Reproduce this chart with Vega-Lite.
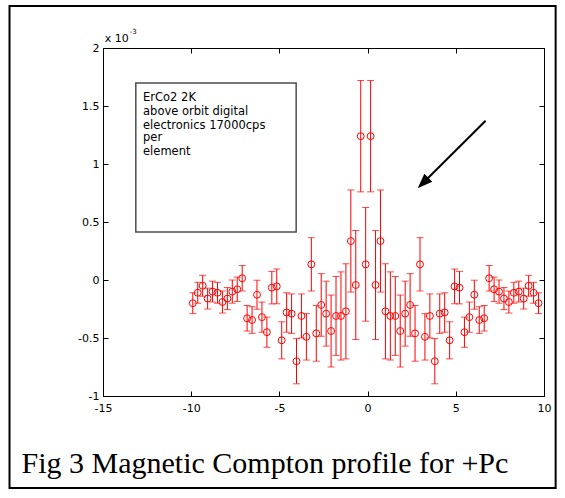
{
  "$schema": "https://vega.github.io/schema/vega-lite/v6.json",
  "width": 441,
  "height": 348,
  "autosize": "none",
  "padding": {"left": 103, "top": 48, "right": 21, "bottom": 102},
  "background": "white",
  "config": {
    "view": {"stroke": null},
    "axis": {
      "domainColor": "black",
      "domainWidth": 1,
      "tickColor": "black",
      "tickWidth": 1,
      "tickSize": -5,
      "labelColor": "black",
      "labelFont": "DejaVu Sans",
      "labelFontSize": 11,
      "labelFlush": false,
      "labelOverlap": false,
      "grid": false,
      "title": null
    }
  },
  "datasets": {
    "profile": [
      {"x": -9.91, "y": -0.20, "e": 0.09},
      {"x": -9.63, "y": -0.11, "e": 0.09},
      {"x": -9.35, "y": -0.05, "e": 0.09},
      {"x": -9.07, "y": -0.16, "e": 0.09},
      {"x": -8.79, "y": -0.10, "e": 0.09},
      {"x": -8.51, "y": -0.11, "e": 0.09},
      {"x": -8.23, "y": -0.19, "e": 0.095},
      {"x": -7.95, "y": -0.16, "e": 0.095},
      {"x": -7.67, "y": -0.10, "e": 0.10},
      {"x": -7.39, "y": -0.08, "e": 0.105},
      {"x": -7.11, "y": 0.015, "e": 0.11},
      {"x": -6.83, "y": -0.33, "e": 0.11},
      {"x": -6.55, "y": -0.345, "e": 0.115},
      {"x": -6.27, "y": -0.127, "e": 0.125},
      {"x": -5.99, "y": -0.32, "e": 0.13},
      {"x": -5.71, "y": -0.45, "e": 0.13},
      {"x": -5.43, "y": -0.066, "e": 0.14},
      {"x": -5.15, "y": -0.055, "e": 0.15},
      {"x": -4.87, "y": -0.52, "e": 0.16},
      {"x": -4.59, "y": -0.28, "e": 0.17},
      {"x": -4.31, "y": -0.29, "e": 0.17},
      {"x": -4.03, "y": -0.70, "e": 0.195},
      {"x": -3.75, "y": -0.31, "e": 0.19},
      {"x": -3.47, "y": -0.49, "e": 0.20},
      {"x": -3.19, "y": 0.135, "e": 0.23},
      {"x": -2.91, "y": -0.46, "e": 0.24},
      {"x": -2.63, "y": -0.215, "e": 0.27},
      {"x": -2.35, "y": -0.29, "e": 0.28},
      {"x": -2.07, "y": -0.44, "e": 0.31},
      {"x": -1.79, "y": -0.31, "e": 0.34},
      {"x": -1.51, "y": -0.31, "e": 0.38},
      {"x": -1.23, "y": -0.27, "e": 0.41},
      {"x": -0.95, "y": 0.336, "e": 0.44},
      {"x": -0.67, "y": -0.043, "e": 0.47},
      {"x": -0.39, "y": 1.24, "e": 0.48},
      {"x": -0.11, "y": 0.135, "e": 0.49},
      {"x": 0.17, "y": 1.24, "e": 0.48},
      {"x": 0.45, "y": -0.043, "e": 0.47},
      {"x": 0.73, "y": 0.336, "e": 0.44},
      {"x": 1.01, "y": -0.27, "e": 0.41},
      {"x": 1.29, "y": -0.31, "e": 0.38},
      {"x": 1.57, "y": -0.31, "e": 0.34},
      {"x": 1.85, "y": -0.44, "e": 0.31},
      {"x": 2.13, "y": -0.29, "e": 0.28},
      {"x": 2.41, "y": -0.215, "e": 0.27},
      {"x": 2.69, "y": -0.46, "e": 0.24},
      {"x": 2.97, "y": 0.135, "e": 0.23},
      {"x": 3.25, "y": -0.49, "e": 0.20},
      {"x": 3.53, "y": -0.31, "e": 0.19},
      {"x": 3.81, "y": -0.70, "e": 0.195},
      {"x": 4.09, "y": -0.29, "e": 0.17},
      {"x": 4.37, "y": -0.28, "e": 0.17},
      {"x": 4.65, "y": -0.52, "e": 0.16},
      {"x": 4.93, "y": -0.055, "e": 0.15},
      {"x": 5.21, "y": -0.066, "e": 0.14},
      {"x": 5.49, "y": -0.45, "e": 0.13},
      {"x": 5.77, "y": -0.32, "e": 0.13},
      {"x": 6.05, "y": -0.127, "e": 0.125},
      {"x": 6.33, "y": -0.345, "e": 0.115},
      {"x": 6.61, "y": -0.33, "e": 0.11},
      {"x": 6.89, "y": 0.015, "e": 0.11},
      {"x": 7.17, "y": -0.08, "e": 0.105},
      {"x": 7.45, "y": -0.10, "e": 0.10},
      {"x": 7.73, "y": -0.16, "e": 0.095},
      {"x": 8.01, "y": -0.19, "e": 0.095},
      {"x": 8.29, "y": -0.11, "e": 0.09},
      {"x": 8.57, "y": -0.10, "e": 0.09},
      {"x": 8.85, "y": -0.16, "e": 0.09},
      {"x": 9.13, "y": -0.05, "e": 0.09},
      {"x": 9.41, "y": -0.11, "e": 0.09},
      {"x": 9.69, "y": -0.20, "e": 0.09}
    ]
  },
  "layer": [
    {
      "layer": [
        {
          "data": {"name": "profile"},
          "mark": {"type": "errorbar", "color": "red", "ticks": {"size": 7, "color": "red", "strokeWidth": 1}, "rule": {"color": "red", "strokeWidth": 1}},
          "encoding": {
            "x": {"field": "x", "type": "quantitative", "title": null, "scale": {"domain": [-15, 10], "nice": false, "zero": false},
                  "axis": {"orient": "bottom", "title": null, "values": [-15, -10, -5, 0, 5, 10], "labelExpr": "'' + datum.value", "labelPadding": 11}},
            "y": {"field": "y", "type": "quantitative", "title": null, "scale": {"domain": [-1, 2], "nice": false, "zero": false},
                  "axis": {"orient": "left", "title": null, "values": [-1, -0.5, 0, 0.5, 1, 1.5, 2], "labelExpr": "'' + datum.value", "labelPadding": 9}},
            "yError": {"field": "e"}
          }
        },
        {
          "data": {"name": "profile"},
          "mark": {"type": "point", "shape": "circle", "filled": false, "color": "red", "size": 48, "strokeWidth": 1, "opacity": 1},
          "encoding": {
            "x": {"field": "x", "type": "quantitative", "title": null},
            "y": {"field": "y", "type": "quantitative", "title": null}
          }
        },
        {
          "data": {"values": [{"x": -13.14, "x2": -4.05, "y": 1.698, "y2": 0.414}]},
          "mark": {"type": "rect", "fill": "white", "stroke": "#4d4d4d", "strokeWidth": 1.5},
          "encoding": {
            "x": {"field": "x", "type": "quantitative", "title": null},
            "x2": {"field": "x2"},
            "y": {"field": "y", "type": "quantitative", "title": null},
            "y2": {"field": "y2"}
          }
        },
        {
          "data": {"values": [
            {"x": -12.73, "y": 1.540, "t": "ErCo2 2K"},
            {"x": -12.73, "y": 1.420, "t": "above orbit digital"},
            {"x": -12.73, "y": 1.304, "t": "electronics 17000cps"},
            {"x": -12.73, "y": 1.196, "t": "per"},
            {"x": -12.73, "y": 1.075, "t": "element"}
          ]},
          "mark": {"type": "text", "align": "left", "baseline": "alphabetic", "font": "DejaVu Sans", "fontSize": 11.5, "color": "black"},
          "encoding": {
            "x": {"field": "x", "type": "quantitative", "title": null},
            "y": {"field": "y", "type": "quantitative", "title": null},
            "text": {"field": "t"}
          }
        },
        {
          "data": {"values": [{"x": 6.69, "y": 1.373, "x2": 3.14, "y2": 0.836}]},
          "mark": {"type": "rule", "color": "black", "strokeWidth": 2},
          "encoding": {
            "x": {"field": "x", "type": "quantitative", "title": null},
            "y": {"field": "y", "type": "quantitative", "title": null},
            "x2": {"field": "x2"},
            "y2": {"field": "y2"}
          }
        },
        {
          "data": {"values": [{"x": 3.14, "y": 0.836}]},
          "mark": {"type": "point", "shape": "M0,-1L0.75,1L-0.75,1Z", "filled": true, "color": "black", "size": 225, "angle": 225, "opacity": 1},
          "encoding": {
            "x": {"field": "x", "type": "quantitative", "title": null},
            "y": {"field": "y", "type": "quantitative", "title": null}
          }
        },
        {
          "data": {"values": [
            {"x": -14.9, "y": 2.054, "t": "x 10", "s": 11},
            {"x": -13.49, "y": 2.125, "t": "-3", "s": 7}
          ]},
          "transform": [{"filter": "datum.s === 11"}],
          "mark": {"type": "text", "align": "left", "baseline": "alphabetic", "font": "DejaVu Sans", "fontSize": 11, "color": "black"},
          "encoding": {
            "x": {"field": "x", "type": "quantitative", "title": null},
            "y": {"field": "y", "type": "quantitative", "title": null},
            "text": {"field": "t"}
          }
        },
        {
          "data": {"values": [
            {"x": -14.9, "y": 2.054, "t": "x 10", "s": 11},
            {"x": -13.49, "y": 2.125, "t": "-3", "s": 7}
          ]},
          "transform": [{"filter": "datum.s === 7"}],
          "mark": {"type": "text", "align": "left", "baseline": "alphabetic", "font": "DejaVu Sans", "fontSize": 7, "color": "black"},
          "encoding": {
            "x": {"field": "x", "type": "quantitative", "title": null},
            "y": {"field": "y", "type": "quantitative", "title": null},
            "text": {"field": "t"}
          }
        },
        {
          "data": {"values": [{"x": -19.62, "y": -1.661, "t": "Fig 3 Magnetic Compton profile for +Pc"}]},
          "mark": {"type": "text", "align": "left", "baseline": "alphabetic", "font": "Liberation Serif", "fontSize": 30, "color": "black"},
          "encoding": {
            "x": {"field": "x", "type": "quantitative", "title": null},
            "y": {"field": "y", "type": "quantitative", "title": null},
            "text": {"field": "t"}
          }
        }
      ]
    },
    {
      "data": {"values": [{"x": -20.3, "x2": 10.66, "y": 2.362, "y2": -1.793}]},
      "mark": {"type": "rect", "fill": null, "fillOpacity": 0, "stroke": "black", "strokeWidth": 2},
      "encoding": {
        "x": {"field": "x", "type": "quantitative", "title": null, "scale": {"domain": [-15, 10], "nice": false, "zero": false},
              "axis": {"orient": "top", "title": null, "values": [-15, -10, -5, 0, 5, 10], "labels": false}},
        "x2": {"field": "x2"},
        "y": {"field": "y", "type": "quantitative", "title": null, "scale": {"domain": [-1, 2], "nice": false, "zero": false},
              "axis": {"orient": "right", "title": null, "values": [-1, -0.5, 0, 0.5, 1, 1.5, 2], "labels": false}},
        "y2": {"field": "y2"}
      }
    }
  ],
  "resolve": {"axis": {"x": "independent", "y": "independent"}}
}
